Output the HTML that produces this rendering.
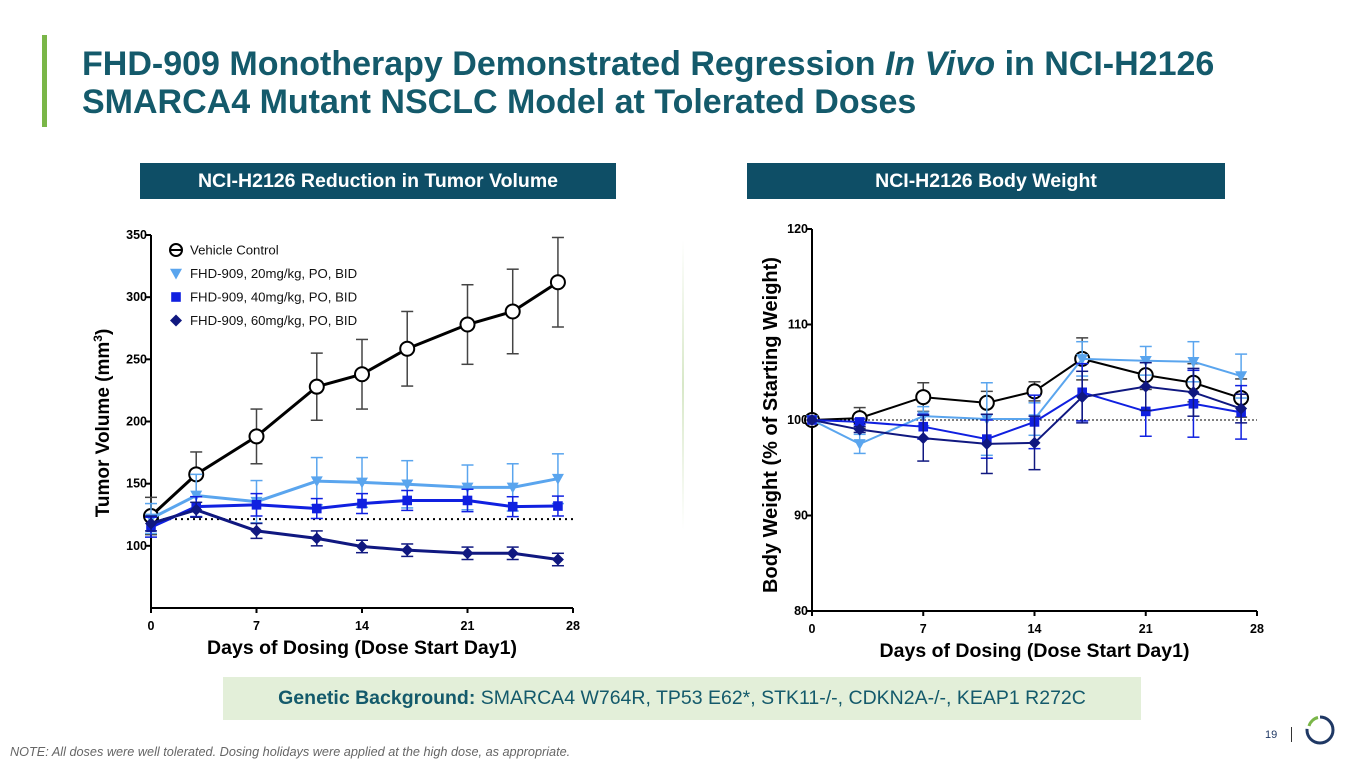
<!DOCTYPE html>
<html><head><meta charset="utf-8">
<style>
body{margin:0;width:1365px;height:768px;background:#fff;font-family:"Liberation Sans",sans-serif;position:relative;overflow:hidden}
.abs{position:absolute}
.title{left:82px;top:45px;font-size:34px;font-weight:bold;color:#145a6b;line-height:38px;white-space:nowrap}
.hdr{background:#0e4e66;color:#fff;font-weight:bold;font-size:19.5px;text-align:center;line-height:36px;height:36px}
</style></head><body>
<div class="abs" style="left:42px;top:35px;width:5px;height:92px;background:#7ab648"></div>
<div class="abs title">FHD-909 Monotherapy Demonstrated Regression <i>In Vivo</i> in NCI-H2126<br>SMARCA4 Mutant NSCLC Model at Tolerated Doses</div>
<div class="abs hdr" style="left:140px;top:163px;width:476px">NCI-H2126 Reduction in Tumor Volume</div>
<div class="abs hdr" style="left:747px;top:163px;width:478px">NCI-H2126 Body Weight</div>
<div class="abs" style="left:682px;top:240px;width:2px;height:290px;background:linear-gradient(#fff,#d8e8c8,#fff)"></div>
<svg class="abs" style="left:0;top:0" width="1365" height="768" id="svg"></svg>
<div class="abs" style="left:223px;top:677px;width:918px;height:43px;background:#e3efd9;text-align:center;line-height:43px;font-size:19.5px;color:#145a6b;white-space:nowrap"><b>Genetic Background:</b> SMARCA4 W764R, TP53 E62*, STK11-/-, CDKN2A-/-, KEAP1 R272C</div>
<div class="abs" style="left:10px;top:745px;font-size:12.7px;font-style:italic;color:#666;white-space:nowrap">NOTE: All doses were well tolerated. Dosing holidays were applied at the high dose, as appropriate.</div>
<div class="abs" style="left:1265px;top:729px;font-size:11px;color:#1f3864">19</div>
<div class="abs" style="left:1291px;top:727px;width:1px;height:15px;background:#333"></div>
<svg class="abs" style="left:1304px;top:714px" width="32" height="32">
<circle cx="16" cy="16" r="13" fill="none" stroke="#1f3864" stroke-width="3" stroke-dasharray="62 20" transform="rotate(-90 16 16)"/>
<path d="M5 12 A12.5 12.5 0 0 1 14 3.5" fill="none" stroke="#7ab648" stroke-width="3"/></svg>
<script>
const days=[0,3,7,11,14,17,21,24,27];
const tvVehicle=[124,157.5,188,228,238,258.5,278,288.5,312];
const tvVehicleErr=[15,18,22,27,28,30,32,34,36];
const tv20=[122,140.5,135.5,152,151,149.5,147,147,154];
const tv20Err=[12,17,17,19,20,19,18,19,20];
const tv40=[115,131.5,133,130,134,136.5,136.5,131.5,132];
const tv40Err=[8,8,9,8,8,8,9,8,8];
const tv60=[118,129,112,106,99.5,96.5,94,94,89];
const tv60Err=[6,6,6,6,5,5,5,5,5];
const tvTicks=[100,150,200,250,300,350];
const bwVehicle=[100,100.2,102.4,101.8,103,106.4,104.7,103.9,102.3];
const bwVehicleErr=[0,1.1,1.5,1.2,1,2.2,1.5,2,2];
const bw20=[100,97.5,100.4,100.1,100.1,106.4,106.2,106.1,104.6];
const bw20Err=[0,1,1,3.8,1.7,1.8,1.5,2.1,2.3];
const bw40=[100,99.8,99.3,98,99.8,102.9,100.9,101.7,100.8];
const bw40Err=[0,0.3,1.3,2,2.8,3,2.6,3.5,2.8];
const bw60=[100,99,98.1,97.5,97.6,102.4,103.5,102.9,101.2];
const bw60Err=[0,0.3,2.4,3.1,2.8,2.7,2.5,2.5,1.5];
const bwTicks=[80,90,100,110,120];
const xTicks=[0,7,14,21,28];
const legendLabels=["Vehicle Control","FHD-909, 20mg/kg, PO, BID","FHD-909, 40mg/kg, PO, BID","FHD-909, 60mg/kg, PO, BID"];
const colors=["#000","#5aa5ee","#1020e0","#101880"];
const shapes=["circle","tri","square","diamond"];

const svg=document.getElementById('svg');
const NS='http://www.w3.org/2000/svg';
function el(t,a,p){const e=document.createElementNS(NS,t);for(const k in a)e.setAttribute(k,a[k]);(p||svg).appendChild(e);return e;}
function marker(shape,x,y,c,s,g){
 if(shape==='circle')return el('circle',{cx:x,cy:y,r:s,fill:'#fff','fill-opacity':0.0,stroke:c,'stroke-width':2},g);
 if(shape==='tri')return el('path',{d:`M${x-s} ${y-s*0.8}L${x+s} ${y-s*0.8}L${x} ${y+s}Z`,fill:c},g);
 if(shape==='square')return el('rect',{x:x-s*0.8,y:y-s*0.8,width:s*1.6,height:s*1.6,fill:c},g);
 return el('path',{d:`M${x} ${y-s}L${x+s} ${y}L${x} ${y+s}L${x-s} ${y}Z`,fill:c},g);
}
function chart(o){
 const sx=v=>o.x0+(v-0)/28*(o.x1-o.x0);
 const sy=v=>o.yb+(v-o.ymin)/(o.ymax-o.ymin)*(o.yt-o.yb);
 const g=el('g',{});
 
 
 el('line',{x1:o.x0,y1:o.yt,x2:o.x0,y2:o.yb,stroke:'#000','stroke-width':2},g);
 el('line',{x1:o.x0,y1:o.yb,x2:o.x1,y2:o.yb,stroke:'#000','stroke-width':2},g);
 o.yticks.forEach(t=>{const y=sy(t);el('line',{x1:o.x0-5,y1:y,x2:o.x0,y2:y,stroke:'#000','stroke-width':2},g);
  const tx=el('text',{x:o.x0-4,y:y+4,'text-anchor':'end','font-size':12.5,'font-weight':'bold'},g);tx.textContent=t;});
 xTicks.forEach(t=>{const x=sx(t);el('line',{x1:x,y1:o.yb,x2:x,y2:o.yb+5,stroke:'#000','stroke-width':2},g);
  const tx=el('text',{x:x,y:o.yb+22,'text-anchor':'middle','font-size':12.5,'font-weight':'bold'},g);tx.textContent=t;});
 const xl=el('text',{x:(o.x0+o.x1)/2,y:o.yb+46,'text-anchor':'middle','font-size':19.5,'font-weight':'bold'},g);
 xl.textContent='Days of Dosing (Dose Start Day1)';
 const yl=el('text',{x:0,y:0,'text-anchor':'middle','font-size':o.ysize,'font-weight':'bold',transform:`translate(${o.ylx},${o.ylc}) rotate(-90)`},g);
 yl.innerHTML=o.ytitle;
 el('line',{x1:o.x0,y1:sy(o.base),x2:o.x1,y2:sy(o.base),stroke:'#000','stroke-width':o.dotw,'stroke-dasharray':o.dash},g);
 o.series.forEach((s,i)=>{
  const sg=el('g',{},g);
  
  
  s.v.forEach((v,j)=>{const x=sx(days[j]);const e=s.e[j];if(!e)return;
   const c=i===0?'#444':colors[i];
   el('line',{x1:x,y1:sy(v-e),x2:x,y2:sy(v+e),stroke:c,'stroke-width':1.5},sg);
   el('line',{x1:x-6,y1:sy(v-e),x2:x+6,y2:sy(v-e),stroke:c,'stroke-width':1.5},sg);
   el('line',{x1:x-6,y1:sy(v+e),x2:x+6,y2:sy(v+e),stroke:c,'stroke-width':1.5},sg);});
  el('polyline',{points:s.v.map((v,j)=>sx(days[j])+','+sy(v)).join(' '),fill:'none',stroke:colors[i],'stroke-width':o.lw},sg);
  s.v.forEach((v,j)=>{const m=marker(shapes[i],sx(days[j]),sy(v),colors[i],i===0?7:6,sg);if(i===0)m.setAttribute('fill-opacity',1);});
 });
}
chart({name:'tumor-volume-chart',x0:151,x1:573,yt:235,yb:608,ymin:50,ymax:350,yticks:tvTicks,ylx:109,ylc:423,ysize:19,
 ytitle:'Tumor Volume (mm<tspan font-size="12" dy="-7">3</tspan><tspan dy="7">)</tspan>',base:121.5,dotw:2,dash:'2 4',lw:3,
 series:[{v:tvVehicle,e:tvVehicleErr},{v:tv20,e:tv20Err},{v:tv40,e:tv40Err},{v:tv60,e:tv60Err}]});
chart({name:'body-weight-chart',x0:812,x1:1257,yt:229,yb:611,ymin:80,ymax:120,yticks:bwTicks,ylx:777,ylc:425,ysize:20,
 ytitle:'Body Weight (% of Starting Weight)',base:100,dotw:1,dash:'2 2',lw:2,
 series:[{v:bwVehicle,e:bwVehicleErr},{v:bw20,e:bw20Err},{v:bw40,e:bw40Err},{v:bw60,e:bw60Err}]});
legendLabels.forEach((l,i)=>{
 const g=el('g',{});
 
 
 const y=250+i*23.5;
 const m=marker(shapes[i],176,y,colors[i],6,g);
 if(i===0){el('line',{x1:170,y1:y,x2:182,y2:y,stroke:'#000','stroke-width':2},g);}
 const t=el('text',{x:190,y:y+4.5,'font-size':13.2,fill:'#111'},g);t.textContent=l;
});
</script>
</body></html>
